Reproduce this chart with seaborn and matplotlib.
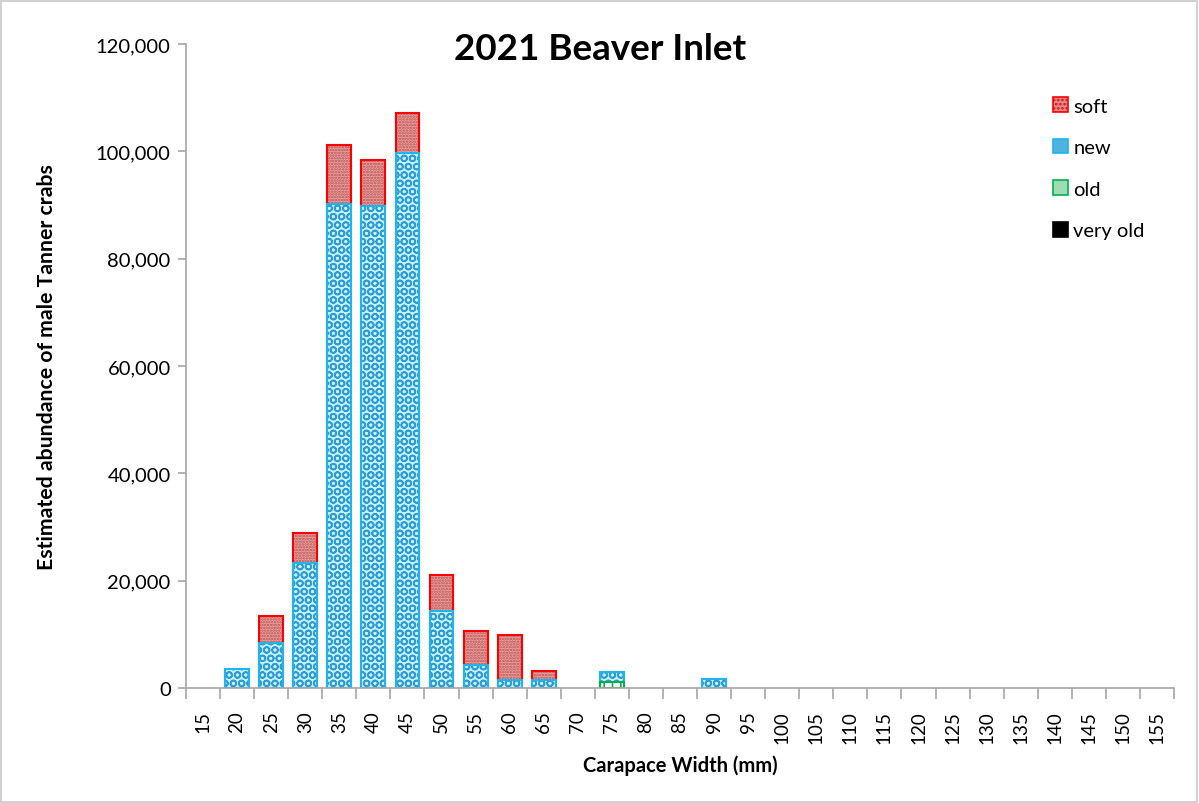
import numpy as np
import pandas as pd
import matplotlib
matplotlib.use("Agg")
import matplotlib.pyplot as plt
import seaborn as sns
from matplotlib.patches import Patch, Rectangle
from matplotlib.ticker import FuncFormatter, FixedLocator

# ---- data ----
widths = list(range(15, 160, 5))
very_old = [0] * len(widths)
old = [0, 0, 0, 0, 0, 0, 0, 0, 0, 0, 0, 0, 1100, 0, 0, 0, 0, 0, 0, 0, 0, 0, 0, 0, 0, 0, 0, 0, 0]
new = [0, 3500, 8400, 23300, 90200, 89800, 99700, 14300, 4300, 1500, 1500, 0, 1800, 0, 0, 1600,
       0, 0, 0, 0, 0, 0, 0, 0, 0, 0, 0, 0, 0]
soft = [0, 0, 5000, 5600, 11000, 8600, 7400, 6800, 6400, 8300, 1700, 0, 0, 0, 0, 0,
        0, 0, 0, 0, 0, 0, 0, 0, 0, 0, 0, 0, 0]
title = "2021 Beaver Inlet"
ylabel = "Estimated abundance of male Tanner crabs"
xlabel = "Carapace Width (mm)"

labels = [str(w) for w in widths]
vo = np.array(very_old, float)
od = np.array(old, float)
nw = np.array(new, float)
sf = np.array(soft, float)

# cumulative tops for overlapping stacked bars
layers = [
    # name, layer values, cumulative top, face, hatch, hatchcolor, edge
    ("soft", sf, vo + od + nw + sf, "#e6a3a3", "......", "#c0504d", "#ff0000"),
    ("new", nw, vo + od + nw, "#c8f3fc", "OO", "#2e9bd6", "#1fb4ee"),
    ("old", od, vo + od, "#ffffff", "||", "#1ea84e", "#00b050"),
    ("very old", vo, vo, "#000000", None, "#000000", "#000000"),
]

sns.set_theme(style="white")
plt.rcParams['font.family'] = ['Lato', 'DejaVu Sans']
plt.rcParams['hatch.linewidth'] = 1.2
plt.rcParams['text.color'] = 'black'
plt.rcParams['axes.labelcolor'] = 'black'
plt.rcParams['xtick.color'] = 'black'
plt.rcParams['ytick.color'] = 'black'

fig = plt.figure(figsize=(11.99, 8.04), dpi=100)
ax = fig.add_axes([186 / 1199, 1 - 689 / 804, (1174 - 186) / 1199, (689 - 45) / 804])

for name, vals, top, face, hatch, hcol, edge in layers:
    h = np.where(vals > 0, top, np.nan)
    df = pd.DataFrame({"w": labels, "h": h}).dropna()
    if df.empty:
        continue
    # hatched fill
    sns.barplot(data=df, x="w", y="h", order=labels, ax=ax, color=face,
                saturation=1, width=0.7, errorbar=None, hatch=hatch,
                edgecolor=hcol, linewidth=0)
    # outline
    sns.barplot(data=df, x="w", y="h", order=labels, ax=ax, fill=False,
                width=0.7, errorbar=None, edgecolor=edge, linewidth=1.5)

ax.set_xlim(-0.5, len(labels) - 0.5)
ax.set_ylim(0, 120000)
ax.yaxis.set_major_locator(FixedLocator(np.arange(0, 120001, 20000)))
ax.yaxis.set_major_formatter(FuncFormatter(lambda v, p: f"{int(v):,}"))
ax.set_xticks(range(len(labels)))
ax.set_xticklabels(labels, rotation=90)
ax.set_xticks(np.arange(-0.5, len(labels), 1), minor=True)
ax.tick_params(axis="x", which="major", length=0, labelsize=13.5, pad=16)
ax.tick_params(axis="x", which="minor", length=8, width=1.2, color="#a6a6a6", direction="out", bottom=True)
ax.tick_params(axis="y", which="major", length=6, width=1.2, color="#a6a6a6", direction="out", left=True,
               labelsize=14.5, pad=5)
for s in ["top", "right"]:
    ax.spines[s].set_visible(False)
for s in ["left", "bottom"]:
    ax.spines[s].set_color("#a6a6a6")
    ax.spines[s].set_linewidth(1.2)
ax.set_xlabel(xlabel, fontsize=14.5, fontweight="bold", labelpad=8)
ax.set_ylabel(ylabel, fontsize=15.3, fontweight="bold", labelpad=28)
ax.grid(False)

fig.text(600 / 1199, 1 - 50 / 804, title, fontsize=26.5, fontweight="bold", ha="center", va="center")

handles = [
    Patch(facecolor="#d98c8c", edgecolor="#ff0000", linewidth=1.2, hatch="...."),
    Patch(facecolor="#4fb2e0", edgecolor="#1fb4ee", linewidth=1.2),
    Patch(facecolor="#9fdcb1", edgecolor="#00b050", linewidth=1.2),
    Patch(facecolor="#000000", edgecolor="#000000", linewidth=1.2),
]
fig.legend(handles, ["soft", "new", "old", "very old"], loc="upper left",
           bbox_to_anchor=(1035 / 1199, 1 - 80 / 804), frameon=False, fontsize=14.5,
           handlelength=0.75, handleheight=0.75, handletextpad=0.25, labelspacing=1.2)

fig.patches.append(Rectangle((0.001, 0.001), 0.997, 0.997, transform=fig.transFigure,
                             fill=False, edgecolor="#c8c8c8", linewidth=1.2))

fig.savefig("out.png", dpi=100)
